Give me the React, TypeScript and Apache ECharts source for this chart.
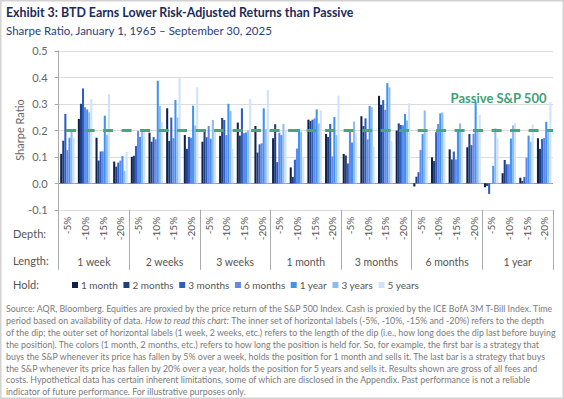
import React, { useEffect, useRef } from 'react';
import * as echarts from 'echarts';

const depths = ['-5%', '-10%', '-15%', '-20%'];
const lengths = ['1 week', '2 weeks', '3 weeks', '1 month', '3 months', '6 months', '1 year'];
const holds = ['1 month', '2 months', '3 months', '6 months', '1 year', '3 years', '5 years'];
const holdColors = ['#0f2148', '#1f3f7e', '#2c5fc2', '#6688ec', '#3f93f3', '#8dbcf4', '#cfe2fb'];

const hold1m = [0.111, 0.243, 0.172, 0.082, 0.100, 0.191, 0.283, 0.182, 0.157, 0.179, 0.229, 0.216, 0.170, 0.060, 0.240, 0.186, 0.111, 0.253, 0.330, 0.199, -0.012, 0.098, 0.128, 0.136, -0.015, 0.038, 0.021, 0.170];
const hold2m = [0.161, 0.300, 0.086, 0.063, 0.104, 0.157, 0.160, 0.130, 0.204, 0.247, 0.180, 0.116, 0.223, 0.024, 0.235, 0.175, 0.105, 0.216, 0.296, 0.226, 0.025, 0.084, 0.090, 0.186, -0.010, 0.088, 0.009, 0.130];
const hold3m = [0.262, 0.358, 0.120, 0.078, 0.141, 0.174, 0.248, 0.175, 0.174, 0.239, 0.283, 0.147, 0.080, 0.089, 0.240, 0.224, 0.075, 0.245, 0.314, 0.220, 0.042, 0.193, 0.120, 0.144, -0.040, 0.072, 0.024, 0.167];
const hold6m = [0.125, 0.287, 0.121, 0.086, 0.197, 0.166, 0.170, 0.172, 0.216, 0.182, 0.189, 0.151, 0.191, 0.131, 0.245, 0.102, 0.200, 0.166, 0.277, 0.219, 0.126, 0.224, 0.090, 0.187, 0.000, 0.072, 0.097, 0.171];
const hold1y = [0.172, 0.279, 0.255, 0.103, 0.175, 0.387, 0.314, 0.293, 0.168, 0.300, 0.192, 0.283, 0.182, 0.205, 0.279, 0.250, 0.154, 0.292, 0.378, 0.262, 0.186, 0.264, 0.197, 0.307, 0.066, 0.169, 0.180, 0.232];
const hold3y = [0.200, 0.268, 0.183, 0.047, 0.198, 0.292, 0.248, 0.218, 0.239, 0.273, 0.200, 0.205, 0.224, 0.195, 0.226, 0.182, 0.233, 0.287, 0.362, 0.237, 0.275, 0.267, 0.226, 0.194, 0.207, 0.219, 0.157, 0.204];
const hold5y = [0.172, 0.317, 0.337, 0.119, 0.200, 0.231, 0.400, 0.362, 0.200, 0.130, 0.318, 0.352, 0.200, 0.100, 0.275, 0.331, 0.190, 0.138, 0.160, 0.302, 0.200, 0.191, 0.200, 0.258, 0.170, 0.226, 0.222, 0.306];
const holdValues = [hold1m, hold2m, hold3m, hold6m, hold1y, hold3y, hold5y];

const passiveSharpe = 0.205;
const yTicks = { min: -0.1, max: 0.5, interval: 0.1 };

const title = 'Exhibit 3: BTD Earns Lower Risk-Adjusted Returns than Passive';
const subtitle = 'Sharpe Ratio, January 1, 1965 \u2013 September 30, 2025';
const footnote = [
  '{n|Source: AQR, Bloomberg. Equities are proxied by the price return of the S&P 500 Index. Cash is proxied by the ICE BofA 3M T-Bill Index. Time}',
  '{n|period based on availability of data. }{i|How to read this chart:}{n| The inner set of horizontal labels (-5%, -10%, -15% and -20%) refers to the depth}',
  '{n|of the dip; the outer set of horizontal labels (1 week, 2 weeks, etc.) refers to the length of the dip (i.e., how long does the dip last before buying}',
  '{n|the position). The colors (1 month, 2 months, etc.) refers to how long the position is held for. So, for example, the first bar is a strategy that}',
  '{n|buys the S&P whenever its price has fallen by 5% over a week, holds the position for 1 month and sells it. The last bar is a strategy that buys}',
  '{n|the S&P whenever its price has fallen by 20% over a year, holds the position for 5 years and sells it. Results shown are gross of all fees and}',
  '{n|costs. Hypothetical data has certain inherent limitations, some of which are disclosed in the Appendix. Past performance is not a reliable}',
  '{n|indicator of future performance. For illustrative purposes only.}',
];

const FONT = 'Lato';

export default function App() {
  const ref = useRef<HTMLDivElement>(null);
  useEffect(() => {
    if (!ref.current) return;
    const chart = echarts.init(ref.current, undefined, { renderer: 'svg' });
    const cats: string[] = [];
    lengths.forEach((l) => depths.forEach((d) => cats.push(l + '|' + d)));

    const series: any[] = holds.map((h, i) => ({
      name: h,
      type: 'bar',
      xAxisIndex: 0,
      yAxisIndex: 0,
      data: holdValues[i],
      itemStyle: { color: holdColors[i] },
      barGap: '0%',
      barCategoryGap: '18%',
      ...(i === 0
        ? {
            markLine: {
              silent: true,
              symbol: 'none',
              label: { show: false },
              z: 10,
              lineStyle: { color: '#47a77b', width: 3, type: [10, 8.5], dashOffset: 11, opacity: 1 },
              data: [{ yAxis: passiveSharpe }],
            },
          }
        : {}),
    }));

    const footGraphics = footnote.map((t, i) => ({
      type: 'text',
      left: 6,
      top: 304 + i * 11.9,
      style: {
        text: t,
        rich: {
          n: { fontFamily: FONT, fontSize: 8.85, fill: '#7a7a7a', color: '#7a7a7a' },
          i: { fontFamily: FONT, fontSize: 8.85, fontStyle: 'italic', fill: '#7a7a7a', color: '#7a7a7a' },
        },
      },
    }));

    chart.setOption({
      animation: false,
      textStyle: { fontFamily: FONT },
      grid: { left: 58.6, right: 11, top: 50.8, height: 159, containLabel: false },
      legend: {
        left: 67,
        top: 275,
        icon: 'rect',
        itemWidth: 6,
        itemHeight: 6,
        itemGap: 5.5,
        textStyle: { fontFamily: FONT, fontSize: 10, color: '#555', padding: [0, 0, 0, -2] },
        data: holds,
      },
      xAxis: [
        {
          type: 'category',
          data: cats,
          position: 'bottom',
          axisLine: { show: false },
          axisTick: { show: false },
          axisLabel: {
            interval: 0,
            rotate: 90,
            margin: 7,
            fontSize: 10,
            color: '#555',
            fontFamily: FONT,
            formatter: (v: string) => v.split('|')[1],
          },
        },
        {
          type: 'category',
          data: lengths,
          position: 'bottom',
          axisLine: { show: false },
          axisTick: { show: true, length: 60, interval: 0, lineStyle: { color: '#aaa', width: 1 } },
          axisLabel: { interval: 0, margin: 47, fontSize: 10.5, color: '#555', fontFamily: FONT },
        },
      ],
      yAxis: {
        type: 'value',
        min: yTicks.min,
        max: yTicks.max,
        interval: yTicks.interval,
        axisLine: { show: true, lineStyle: { color: '#aaa', width: 1 } },
        axisTick: { show: true, length: 4, lineStyle: { color: '#aaa' } },
        axisLabel: {
          margin: 11,
          fontSize: 11,
          color: '#666',
          fontFamily: FONT,
          formatter: (v: number) => v.toFixed(1),
        },
        splitLine: {
          lineStyle: { color: ['#dcdcdc', '#9a9a9a', '#dcdcdc', '#dcdcdc', '#dcdcdc', '#dcdcdc', '#dcdcdc'], width: 1 },
        },
      },
      series,
      graphic: [
        {
          type: 'rect',
          shape: { x: 0.75, y: 0.75, width: 562.5, height: 397.5 },
          style: { fill: 'none', stroke: '#d2d2d2', lineWidth: 1.5 },
          silent: true,
        },
        {
          type: 'text',
          left: 6,
          top: 6,
          style: { text: title, fontFamily: FONT, fontSize: 12.4, fontWeight: 'bold', fill: '#1b2a5c' },
        },
        {
          type: 'text',
          left: 6,
          top: 24,
          style: { text: subtitle, fontFamily: FONT, fontSize: 11.5, fill: '#2b3e78' },
        },
        {
          type: 'text',
          x: 19,
          y: 130,
          rotation: Math.PI / 2,
          style: { text: 'Sharpe Ratio', fontFamily: FONT, fontSize: 11, fill: '#666', align: 'center', verticalAlign: 'middle' },
        },
        {
          type: 'text',
          x: 546.5,
          y: 98,
          z: 20,
          style: { text: 'Passive S&P 500', fontFamily: FONT, fontSize: 13, fontWeight: 'bold', fill: '#3f9f74', align: 'right', verticalAlign: 'middle' },
        },
        {
          type: 'text',
          x: 13,
          y: 233,
          style: { text: 'Depth:', fontFamily: FONT, fontSize: 11, fill: '#555', verticalAlign: 'middle' },
        },
        {
          type: 'text',
          x: 13,
          y: 260,
          style: { text: 'Length:', fontFamily: FONT, fontSize: 11, fill: '#555', verticalAlign: 'middle' },
        },
        {
          type: 'text',
          x: 13,
          y: 284,
          style: { text: 'Hold:', fontFamily: FONT, fontSize: 11, fill: '#555', verticalAlign: 'middle' },
        },
        ...footGraphics,
      ],
    });
    return () => chart.dispose();
  }, []);
  return <div ref={ref} style={{ position: 'fixed', left: 0, top: 0, width: 564, height: 399, background: '#fff' }} />;
}
